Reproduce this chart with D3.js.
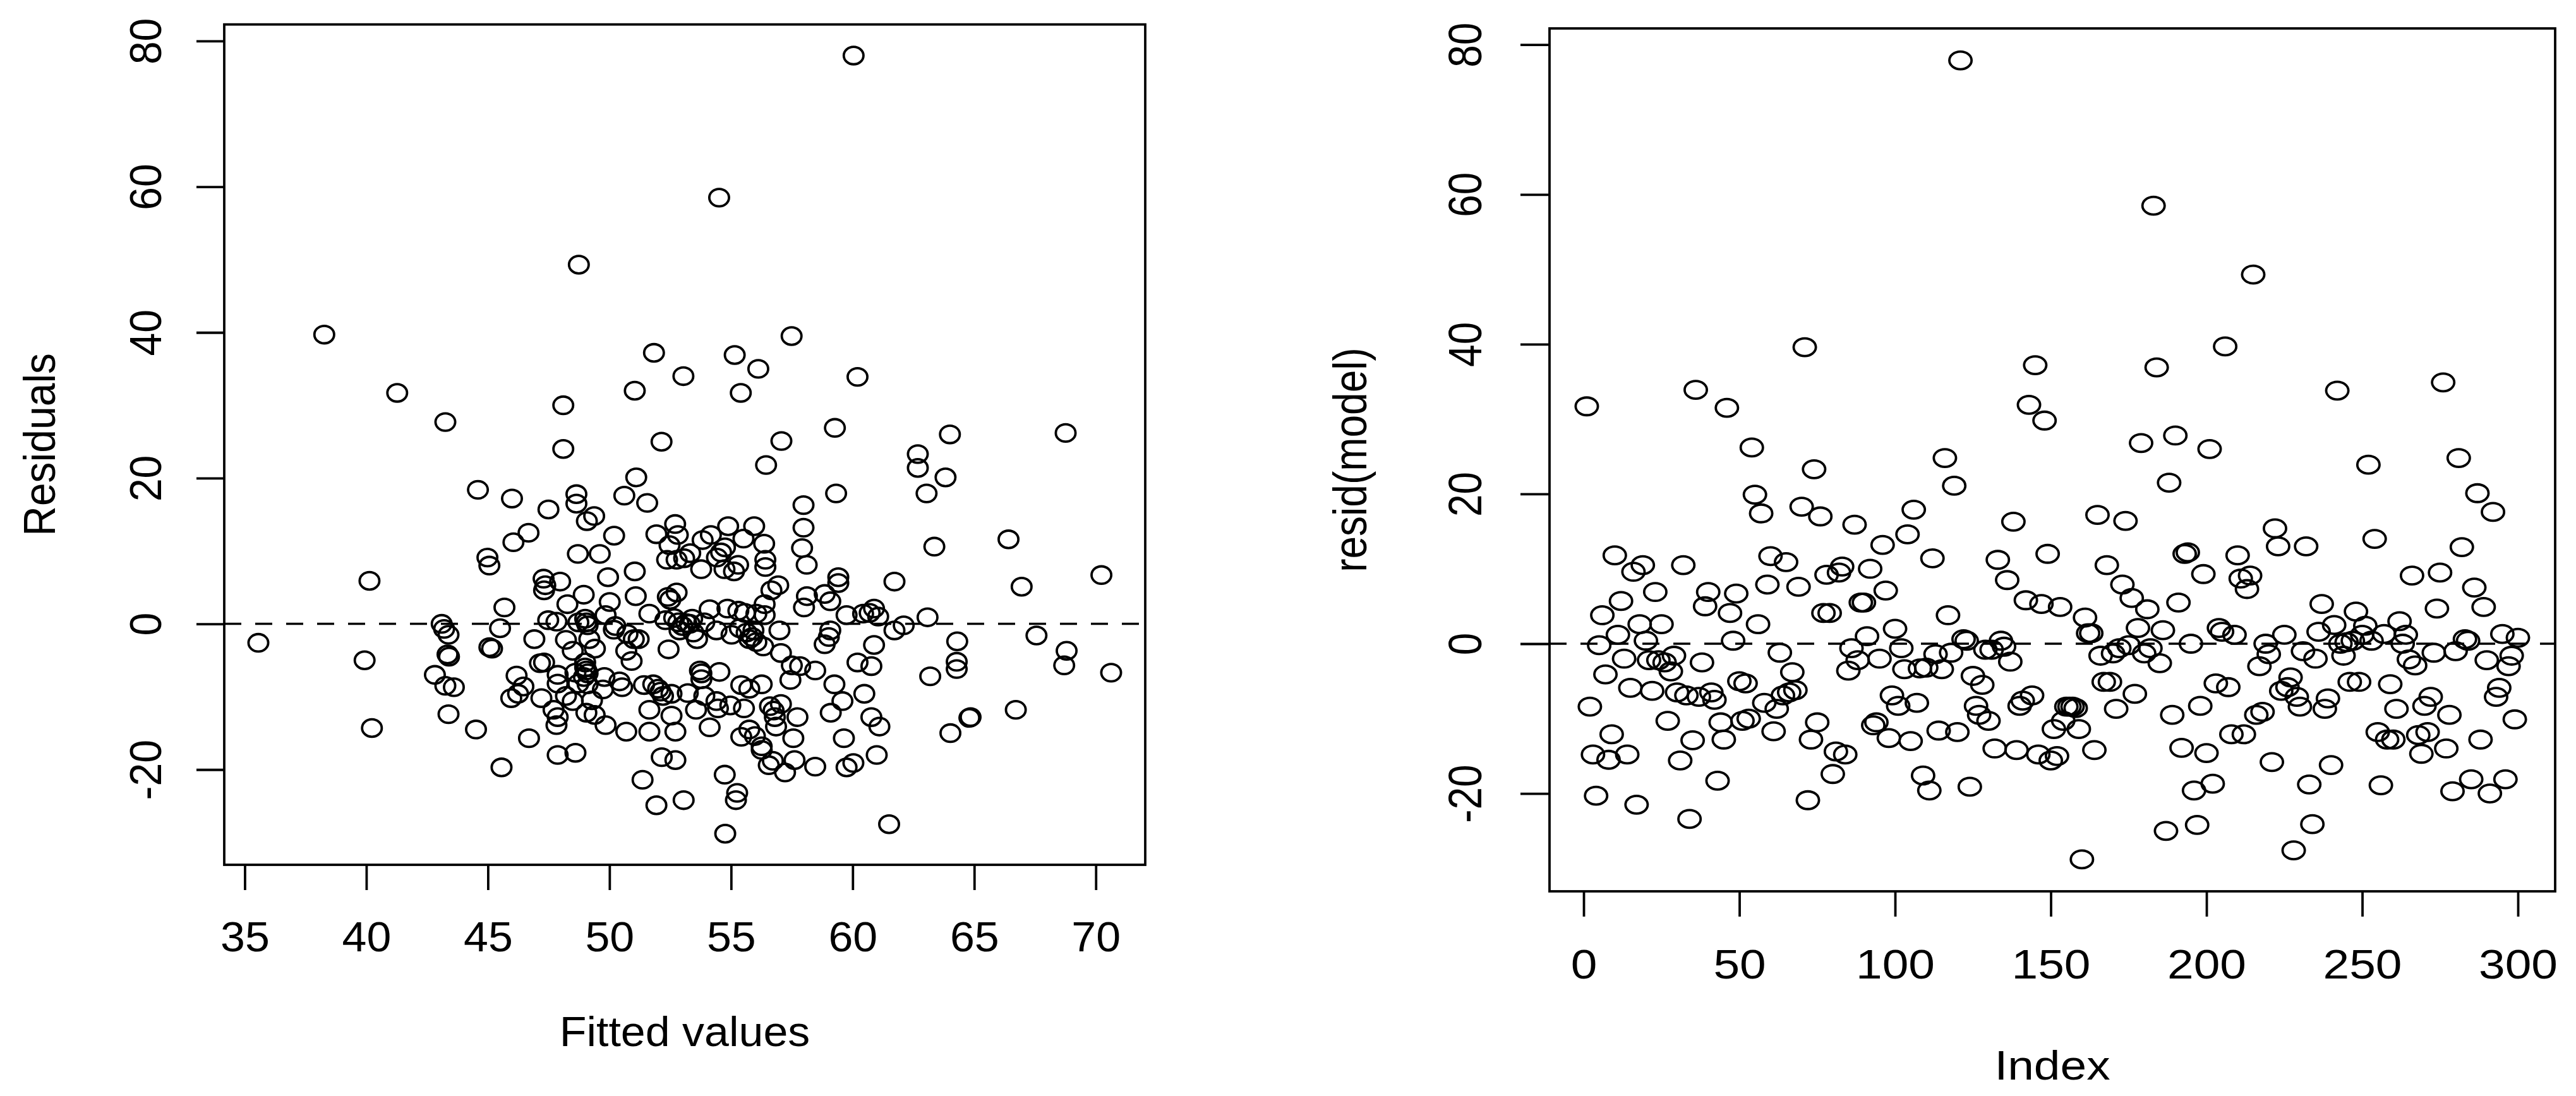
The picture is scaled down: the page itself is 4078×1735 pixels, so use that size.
<!DOCTYPE html>
<html>
<head>
<meta charset="utf-8">
<script src="https://cdn.jsdelivr.net/npm/d3@7"></script>
<style>
	body { margin: 0; background: #fff; }
	svg text { font-family: "Liberation Sans", Arial, Helvetica, sans-serif; fill: #000; }
</style>
</head>
<body>
<script>
// ---- data ----

// right panel: resid(model) in index order (1..300)
const residByIndex = [
	31.7, -8.4, -14.8, -20.3, -0.2, 3.8, -4.1, -15.5, -12.1, 11.8,
	1.2, 5.7, -2, -14.8, -5.9, 9.6, -21.5, 2.6, 10.5, 0.4,
	-2.2, -6.3, 6.9, -2.2, 2.6, -2.5, -10.3, -3.7, -1.6, -6.5,
	-15.6, 10.5, -6.9, -23.4, -12.9, 33.9, -7.1, -2.5, 5, 6.9,
	-6.5, -7.5, -18.3, -10.5, -12.8, 31.5, 4.1, 0.4, 6.7, -5,
	-10.3, -5.3, -10, 26.2, 19.9, 2.6, 17.4, -7.9, 7.9, 11.7,
	-11.7, -8.7, -1.2, -6.9, 10.9, -6.5, -3.8, -6.2, 7.6, 18.3,
	39.6, -20.9, -12.8, 23.3, -10.5, 17, 4.1, 9.2, 4.1, -17.4,
	-14.4, 9.5, 10.3, -14.8, -3.6, -0.6, 15.9, -2.2, 5.5, 5.5,
	1, 10, -10.9, -10.5, -2, 13.2, 7.1, -12.6, -6.9, 2,
	-8.3, -0.6, -3.4, 14.6, -13, 17.9, -7.9, -3.3, -17.6, -3.2,
	-19.6, 11.4, -1.4, -11.6, -3.4, 24.8, 3.8, -1.2, 21.1, -11.8,
	77.9, 0.6, 0.4, -19.1, -4.3, -8.3, -9.5, -5.5, -0.8, -10.3,
	-0.8, -14, 11.2, 0.4, -0.4, 8.5, -2.4, 16.3, -14.2, -8.3,
	-7.6, 5.8, 31.9, -6.9, 37.2, -14.8, 5.3, 29.8, 12, -15.6,
	-11.4, -15, 4.9, -10.3, -8.4, -8.4, -8.4, -8.6, -11.4, -28.8,
	3.5, 1.4, 1.4, -14.2, 17.2, -1.6, -5.1, 10.5, -5.1, -1.3,
	-8.7, -0.6, 7.9, 16.4, -0.2, 6.1, -6.7, 2.1, 26.8, -1.3,
	4.6, -0.6, 58.5, 36.9, -2.6, 1.8, -25, 21.5, -9.5, 27.8,
	5.5, -13.9, 12, 12.2, 0, -19.6, -24.2, -8.3, 9.3, -14.6,
	26,
	-18.7, -5.3, 2.1, 1.6, 39.7, -5.8, -12.1, 1.2, 11.8, 8.7,
	-12.1, 7.3, 9.1, 49.3, -9.5, -3, -9.1, 0, -1.4, -15.8,
	15.4, 13, -6.3, 1.2, -5.8, -4.5, -27.6, -7.1, -8.4, -1,
	13, -18.8, -24.1, -2, 1.6, 5.3, -8.7, -7.3, -16.2, 2.5,
	33.8, 0, -1.6, 0.2, -5.1, 0.4, 4.3, -5.1, 1.2, 2.4,
	23.9, 0.4, 14, -11.8, -18.9, 1.3, -12.8, -5.4, -12.8, -8.7,
	3, 0, 1.2, -2.1, 9.1, -2.9, -12.2, -14.7, -8.3, -11.8,
	-7.1, -1.2, 4.7, 9.5, 34.9, -14, -9.5, -19.7, -1, 24.8,
	12.9, 0.6, 0.4, -18.1, 7.5, 20.1, -12.8, 4.9, -2.2, -20,
	17.6, -7.1, -5.9, 1.3, -18.1, -3, -1.6, -10.1, 0.8
];

// left panel: [fitted value, residual]
const fittedLow = [
	[38.27, 39.7], [41.27, 31.7], [43.25, 27.7], [44.59, 18.4], [44.98, 9.1],
	[45.06, 8.0], [40.13, 5.9], [35.56, -2.6], [39.93, -5.0], [40.23, -14.3],
	[43.1, 0], [43.2, -0.7], [43.38, -1.5], [43.34, -4.2], [43.4, -4.5],
	[42.82, -7], [43.25, -8.5], [43.6, -8.7], [43.38, -12.4], [44.51, -14.5]
];

const fittedOutliers = [[48.74, 49.3], [54.51, 58.5], [60.04, 78.0]];

const fittedUpper = [
	[57.49, 39.5], [51.83, 37.2], [55.15, 36.9], [53.04, 34.0], [56.12, 35.0],
	[60.2, 33.9], [51.04, 32.0], [55.4, 31.7], [48.1, 30.0], [48.1, 24.0],
	[52.14, 25.0], [59.27, 26.9], [57.07, 25.1], [56.44, 21.8], [51.1, 20.1],
	[45.99, 17.2], [47.49, 15.7], [48.64, 17.8], [48.64, 16.5], [50.61, 17.6],
	[51.55, 16.6], [59.32, 17.9], [57.98, 16.3], [49.37, 14.8], [49.07, 14.1],
	[46.67, 12.5], [46.05, 11.2], [50.19, 12.1], [52.7, 13.7], [52.81, 12.2],
	[51.93, 12.3], [54.88, 13.4], [55.95, 13.4], [57.98, 13.2], [54.17, 12.2],
	[53.83, 11.5], [55.51, 11.7], [54.75, 10.5], [56.36, 11.0], [57.92, 10.4],
	[52.47, 10.8], [53.32, 9.7], [53.07, 9.0], [54.59, 9.8], [52.76, 8.8],
	[52.37, 8.8], [54.42, 9.1], [56.41, 8.8], [56.41, 7.8], [58.11, 8.1],
	[55.29, 8.1], [54.73, 7.5], [55.12, 7.2], [53.77, 7.5], [48.7, 9.6],
	[49.6, 9.6], [51.04, 7.2], [49.94, 6.4], [47.29, 6.2], [47.97, 5.8],
	[59.41, 6.4], [61.72, 5.8]
];

const fittedCore = [
	[45.68, 2.25], [45.5, -0.6], [45.17, -3.4], [45.06, -3.2], [46.18, -7.1],
	[46.46, -8.6], [45.96, -10.2], [46.24, -9.6], [46.69, -15.7], [45.56, -19.7],
	[47.36, 5.3], [47.31, 4.6], [48.27, 2.7], [46.91, -2.1], [47.48, 0.5],
	[47.82, 0.3], [47.31, -5.3], [47.14, -5.4], [47.87, -7], [47.87, -8.2],
	[47.2, -10.2], [47.7, -11.8], [47.87, -12.8], [47.82, -13.9], [47.87, -18],
	[48.6, -17.7],
	[48.94, 4], [48.21, -2.2], [48.49, -3.7], [49.0, 0.7], [49.05, 0.2],
	[49.1, -0.2], [48.72, 0.2], [49.4, -3.4], [49.17, -2.1], [49.0, -5.3],
	[49.0, -6], [49.05, -6.4], [49.1, -6.8], [48.95, -7.3], [48.6, -6.7],
	[48.72, -8.2], [49.1, -8.3], [48.21, -9.9], [48.49, -10.6], [49.28, -10.5],
	[49.05, -12.2], [49.39, -12.5], [49.79, -7.3], [49.73, -9], [50.01, 3],
	[49.84, 1.2], [49.84, -13.9],
	[50.24, -0.3], [50.18, -0.8], [50.74, -1.4], [51.2, -2.1], [51.0, -2.1],
	[50.69, -3.7], [50.91, -5.1], [50.41, -7.9], [50.52, -8.7], [51.08, 3.8],
	[50.69, -14.8], [51.64, -14.8], [51.42, -8.4], [51.64, 1.4], [51.64, -11.8],
	[51.36, -21.4], [51.93, -24.9],
	[52.4, 3.7], [52.5, 3.3], [52.76, 4.3], [52.3, 0.5], [52.66, 0.8],
	[52.83, 0.2], [53.0, -0.3], [53.16, 0.1], [52.88, -0.9], [52.43, -3.5],
	[51.8, -8.3], [52.0, -8.9], [52.2, -9.9], [52.1, -9.3], [52.55, -9.6],
	[52.55, -12.6], [52.71, -14.8], [52.15, -18.3], [52.71, -18.7], [53.05, -24.2],
	[53.3, 0], [53.4, 0.7], [53.45, -1.2], [53.6, -2.1], [53.22, -9.5],
	[53.56, -11.8], [53.78, -6.8], [53.78, -7.6], [53.72, -6.4], [54.12, 2],
	[53.9, 0.2], [54.4, -0.9], [53.9, -9.9], [54.12, -14.2], [54.52, -6.6],
	[54.4, -10.6], [54.46, -11.6], [54.74, -20.7], [55.25, -23.2], [55.2, -24.2],
	[54.76, -28.8],
	[54.85, 2.1], [55.3, 1.8], [55.57, 1.5], [55.02, -1.5], [55.36, -0.6],
	[55.64, -1.2], [55.92, -0.9], [55.75, -2.1], [56.04, -2.5], [56.32, -3.1],
	[56.04, 1.4], [56.38, 1.2], [56.38, 2.7], [56.66, 4.6], [56.94, 5.3],
	[55.87, -1.8], [54.97, -11.2], [55.53, -11.6], [55.42, -8.4], [55.75, -8.9],
	[56.26, -8.3], [55.42, -15.5], [55.75, -14.5], [55.98, -15.4], [56.26, -16.8],
	[56.26, -17.3], [56.6, -11.3], [56.75, -11.9], [57.05, -11.0], [56.8, -12.8],
	[56.85, -14.1], [56.55, -19.4], [56.72, -18.8], [57.22, -20.4], [57.61, -18.7],
	[56.99, -0.9], [57.05, -4],
	[58.0, 2.25], [58.12, 3.8], [57.44, -7.7], [57.5, -5.7], [57.84, -5.8],
	[58.46, -6.4], [57.73, -12.8], [57.56, -15.7], [58.46, -19.6], [59.41, 5.6],
	[58.85, 4.1], [59.08, 3.1], [59.08, -0.9], [59.02, -1.8], [58.85, -2.8],
	[59.25, -8.3], [59.1, -12.2], [59.58, -10.6], [59.64, -15.7], [59.75, -19.7],
	[60.03, -19.1], [59.75, 1.2], [60.2, -5.3], [60.48, -9.6], [60.43, 1.4],
	[60.7, 1.5], [60.88, 2.1], [60.88, -2.9], [60.77, -5.8], [60.77, -12.8],
	[61.1, -14.1], [60.99, -18], [61.05, 1.0], [61.72, -0.9], [62.1, -0.2],
	[61.5, -27.5]
];

const fittedHigh = [
	[64.0, 26.0], [68.76, 26.2], [62.68, 23.3], [62.68, 21.4], [63.82, 20.1],
	[63.04, 17.9], [63.36, 10.6], [66.41, 11.6], [70.23, 6.7], [66.95, 5.1],
	[63.08, 0.9], [64.3, -2.4], [64.28, -5.2], [64.28, -6.2], [63.19, -7.2],
	[67.56, -1.6], [68.8, -3.7], [68.7, -5.7], [70.63, -6.7], [64.8, -12.9],
	[64.85, -12.8], [64.02, -15.0], [66.71, -11.8]
];

// tick labels
const fittedTicks = [35, 40, 45, 50, 55, 60, 65, 70];
const indexTicks = [0, 50, 100, 150, 200, 250, 300];
const residTicks = [-20, 0, 20, 40, 60, 80];

// ---- drawing ----

const svg = d3.select("body").append("svg")
	.attr("width", 4078)
	.attr("height", 1735);

// R pads the data range by 4% on each side
function rRange(values) {
	let ext = d3.extent(values);
	let pad = (ext[1] - ext[0]) * 0.04;
	return [ext[0] - pad, ext[1] + pad];
}

function drawPanel(opt) {
	let g = svg.append("g");

	let x = d3.scaleLinear()
		.domain(rRange(opt.points.map(d => d[0])))
		.range([opt.left, opt.right]);
	let y = d3.scaleLinear()
		.domain(rRange(opt.points.map(d => d[1])))
		.range([opt.bottom, opt.top]);

	//x axis
	let xAxis = g.append("g")
		.attr("transform", `translate(0,${opt.bottom})`)
		.call(d3.axisBottom(x).tickValues(opt.xTicks).tickSize(opt.tickX).tickFormat(d => String(d)));
	xAxis.select(".domain").remove();
	xAxis.attr("font-size", opt.fs).attr("font-family", null);
	xAxis.selectAll("line").attr("stroke", "#000").attr("stroke-width", opt.lw);
	xAxis.selectAll("text")
		.attr("y", 0).attr("dy", 0)
		.attr("transform", `translate(0,${opt.xLabelBase}) scale(${opt.sx},1)`);

	//y axis, labels parallel to the axis
	let yAxis = g.append("g")
		.attr("transform", `translate(${opt.left},0)`)
		.call(d3.axisLeft(y).tickValues(opt.yTicks).tickSize(opt.tickY).tickFormat(d => String(d)));
	yAxis.select(".domain").remove();
	yAxis.attr("font-size", opt.fs).attr("font-family", null);
	yAxis.selectAll("line").attr("stroke", "#000").attr("stroke-width", opt.lw);
	yAxis.selectAll("text")
		.attr("x", 0).attr("dy", 0)
		.attr("text-anchor", "middle")
		.attr("transform", `translate(${-opt.yLabelOff},0) scale(${opt.sx},1) rotate(-90)`);

	//reference line at zero
	g.append("line")
		.attr("x1", opt.left).attr("x2", opt.right)
		.attr("y1", y(0)).attr("y2", y(0))
		.attr("stroke", "#000")
		.attr("stroke-width", opt.lw - 0.3)
		.attr("stroke-dasharray", "27,22");

	//points
	g.append("g").selectAll("ellipse")
		.data(opt.points)
		.enter().append("ellipse")
		.attr("cx", d => x(d[0]))
		.attr("cy", d => y(d[1]))
		.attr("rx", opt.rx)
		.attr("ry", opt.ry)
		.attr("fill", "none")
		.attr("stroke", "#000")
		.attr("stroke-width", 3.8);

	//box
	g.append("rect")
		.attr("x", opt.left).attr("y", opt.top)
		.attr("width", opt.right - opt.left)
		.attr("height", opt.bottom - opt.top)
		.attr("fill", "none")
		.attr("stroke", "#000")
		.attr("stroke-width", opt.lw);

	//axis titles
	g.append("text")
		.attr("text-anchor", "middle")
		.attr("font-size", opt.fs)
		.attr("transform", `translate(${(opt.left + opt.right) / 2},${opt.xTitleBase}) scale(${opt.sx},1)`)
		.text(opt.xTitle);
	g.append("text")
		.attr("text-anchor", "middle")
		.attr("font-size", opt.fs)
		.attr("transform", `translate(${opt.yTitleBase},${(opt.top + opt.bottom) / 2}) scale(${opt.sx},1) rotate(-90)`)
		.text(opt.yTitle);
}

let leftPoints = fittedLow.concat(fittedOutliers, fittedUpper, fittedCore, fittedHigh);
let rightPoints = residByIndex.map((v, i) => [i + 1, v]);

drawPanel({
	points: leftPoints,
	xTicks: fittedTicks, yTicks: residTicks,
	left: 355, right: 1813, top: 38.7, bottom: 1369,
	tickX: 40, tickY: 44, lw: 3.8,
	fs: 66, sx: 1.06,
	xLabelBase: 137, yLabelOff: 100,
	xTitleBase: 1656, yTitleBase: 87,
	rx: 15.6, ry: 13.8,
	xTitle: "Fitted values", yTitle: "Residuals"
});

drawPanel({
	points: rightPoints,
	xTicks: indexTicks, yTicks: residTicks,
	left: 2453, right: 4045, top: 45, bottom: 1411,
	tickX: 40, tickY: 46, lw: 3.8,
	fs: 64, sx: 1.17,
	xLabelBase: 138, yLabelOff: 108,
	xTitleBase: 1709, yTitleBase: 2163,
	rx: 17.6, ry: 14,
	xTitle: "Index", yTitle: "resid(model)"
});
</script>
</body>
</html>
